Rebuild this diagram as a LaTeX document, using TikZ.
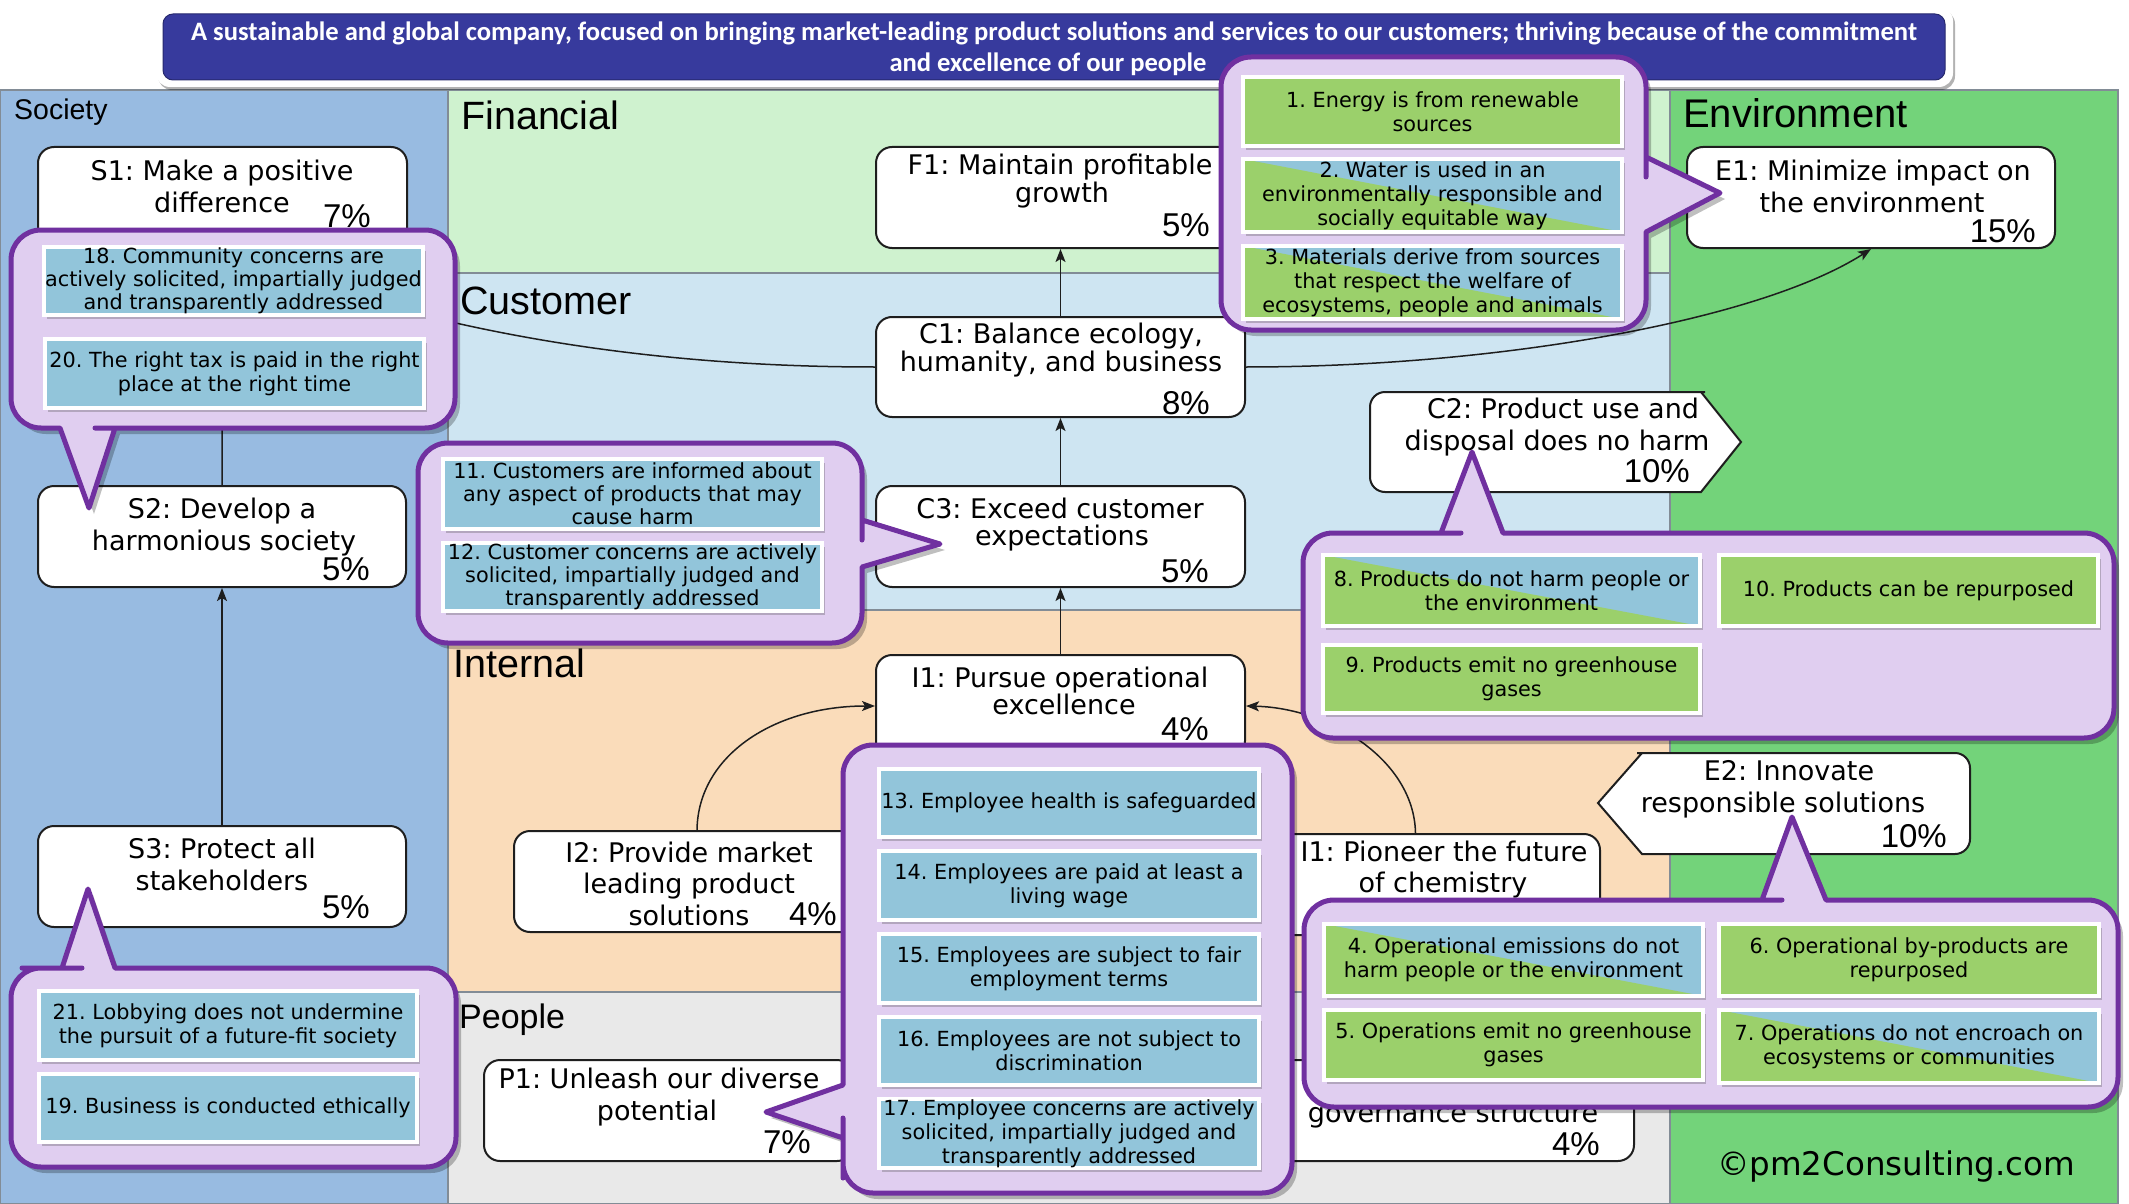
\documentclass[tikz,border=0pt]{standalone}
\usepackage{fontspec}
\setmainfont{DejaVu Sans}
\newfontfamily\vf{DejaVu Sans}
\newfontfamily\af{Liberation Sans}
\newfontfamily\cf{Carlito}
\usetikzlibrary{arrows.meta,shadows}
\definecolor{socbg}{RGB}{152,187,225}
\definecolor{finbg}{RGB}{207,242,207}
\definecolor{cusbg}{RGB}{206,229,242}
\definecolor{intbg}{RGB}{250,220,186}
\definecolor{peobg}{RGB}{233,233,233}
\definecolor{envbg}{RGB}{115,211,122}
\definecolor{panline}{RGB}{130,140,150}
\definecolor{bannerblue}{RGB}{55,58,157}
\definecolor{coFill}{RGB}{224,206,240}
\definecolor{coLine}{RGB}{112,48,160}
\definecolor{iblue}{RGB}{146,197,218}
\definecolor{igreen}{RGB}{155,208,107}
\definecolor{boxline}{RGB}{30,30,30}
\newcounter{tl}
\newcommand\btl[3]{\stepcounter{tl}\node[btxt] (t\arabic{tl}) at (#1,#2) {#3};}
\newcommand\pctl[3]{\stepcounter{tl}\node[pct] (t\arabic{tl}) at (#1,#2) {#3};}
\newcommand\itm[8]{%
 \pgfmathsetmacro\iw{#4-#2-4}\pgfmathsetmacro\ih{#5-#3-4}%
 \pgfmathsetmacro\icx{(#2+#4)/2}\pgfmathsetmacro\icy{(#3+#5)/2}%
 \node[itembox,#6,minimum width=\iw pt,minimum height=\ih pt] (#1) at (\icx,\icy) {};
 \node[itemtxt,#7] (#1t) at (#1.center) {#8};}
\begin{document}
\frenchspacing
\begin{tikzpicture}[x=1pt,y=-1pt,
 panel/.style={draw=panline,line width=1.2pt},
 mbox/.style={draw=boxline,fill=white,line width=2pt,rounded corners=16pt,inner sep=0pt},
 mpath/.style={draw=boxline,fill=white,line width=2pt},
 btxt/.style={anchor=base,inner sep=0pt,font=\vf\fontsize{27}{31}\selectfont},
 pct/.style={anchor=base east,inner sep=0pt,font=\af\fontsize{33}{36}\selectfont},
 sect/.style={anchor=base west,inner sep=0pt},
 arr/.style={-{Stealth[length=13pt,width=10pt,inset=3pt]},line width=1.5pt,draw=boxline},
 callout/.style={draw=coLine,fill=coFill,line width=5pt,line join=round,drop shadow={shadow xshift=5pt,shadow yshift=-6pt,opacity=0.25,fill=black}},
 itembox/.style={draw=white,line width=4pt,inner sep=0pt,drop shadow={shadow xshift=3pt,shadow yshift=-4pt,opacity=0.3,fill=black!70}},
 itemtxt/.style={inner sep=0pt,align=center,font=\vf\fontsize{20.8}{24}\selectfont},
 tight/.style={font=\vf\fontsize{20.8}{23}\selectfont},
 ib/.style={fill=iblue},
 ig/.style={fill=igreen},
 isplit/.style={fill=iblue,path picture={\fill[igreen] (path picture bounding box.north west) -- (path picture bounding box.south east) -- (path picture bounding box.south west) -- cycle;}},
]
\fill[white] (0,0) rectangle (2129,1204);
\path[use as bounding box] (0,0) rectangle (2129,1204);
% panels
\draw[panel,fill=socbg] (0,90) rectangle (448,1204);
\draw[panel,fill=finbg] (448,90) rectangle (1670,273);
\draw[panel,fill=cusbg] (448,273) rectangle (1670,610);
\draw[panel,fill=intbg] (448,610) rectangle (1670,992);
\draw[panel,fill=peobg] (448,992) rectangle (1670,1204);
\draw[panel,fill=envbg] (1670,90) rectangle (2118,1204);
% banner
\path[fill=white,rounded corners=14pt,drop shadow={shadow xshift=2pt,shadow yshift=-3pt,opacity=0.3,fill=black}] (156,7) rectangle (1953,87);
\path[fill=bannerblue,draw=bannerblue!70!black,line width=1pt,rounded corners=10pt] (163,14) rectangle (1945,80);
\node[anchor=base,inner sep=0pt,text=white,font=\cf\bfseries\fontsize{26.6}{31}\selectfont] (bn1) at (1054,41) {A sustainable and global company, focused on bringing market-leading product solutions and services to our customers; thriving because of the commitment};
\node[anchor=base,inner sep=0pt,text=white,font=\cf\bfseries\fontsize{26.6}{31}\selectfont] (bn2) at (1048,72) {and excellence of our people};
% section labels
\node[sect,font=\af\fontsize{28.5}{30}\selectfont] (lsoc) at (14,120) {Society};
\node[sect,font=\af\fontsize{39.5}{40}\selectfont] (lfin) at (461,130) {Financial};
\node[sect,font=\af\fontsize{39.5}{40}\selectfont] (lcus) at (460,314) {Customer};
\node[sect,font=\af\fontsize{39.5}{40}\selectfont] (lint) at (453,677) {Internal};
\node[sect,font=\af\fontsize{34}{36}\selectfont] (lpeo) at (459,1028) {People};
\node[sect,font=\af\fontsize{40}{40}\selectfont] (lenv) at (1683,128) {Environment};
% main boxes
\node[mbox,minimum width=369pt,minimum height=102pt] (S1) at (222.5,198) {};
\node[mbox,minimum width=368pt,minimum height=101pt] (S2) at (222,536.5) {};
\node[mbox,minimum width=368pt,minimum height=101pt] (S3) at (222,876.5) {};
\node[mbox,minimum width=369pt,minimum height=101pt] (F1) at (1060.5,197.5) {};
\node[mbox,minimum width=369pt,minimum height=100pt] (C1) at (1060.5,367) {};
\node[mbox,minimum width=369pt,minimum height=101pt] (C3) at (1060.5,536.5) {};
\node[mbox,minimum width=369pt,minimum height=102pt] (I1) at (1060.5,706) {};
\node[mbox,minimum width=368pt,minimum height=101pt] (E1) at (1871,197.5) {};
\node[mbox,minimum width=366pt,minimum height=101pt] (I2) at (697,881.5) {};
\node[mbox,minimum width=369pt,minimum height=101pt] (P1) at (668.5,1110.5) {};
\node[mbox,minimum width=369pt,minimum height=101pt] (I1P) at (1415.5,884.5) {};
\node[mbox,minimum width=369pt,minimum height=101pt] (P2) at (1449.5,1110.5) {};
% signal shapes
\draw[mpath] (1370,442) [rounded corners=15pt] -- (1370,392) -- (1690,392) [sharp corners] -- (1701,392) -- (1741,442) -- (1701,492) -- (1690,492) [rounded corners=15pt] -- (1370,492) -- cycle;
\draw[mpath] (1970,803) [rounded corners=15pt] -- (1970,753) -- (1652,753) [sharp corners] -- (1642,753) -- (1598,803) -- (1642,854) -- (1652,854) [rounded corners=15pt] -- (1970,854) -- cycle;
% texts in boxes
\btl{222}{180}{S1: Make a positive} \btl{222}{212}{difference} \pctl{371}{227}{7\%}
\btl{222}{518}{S2: Develop a} \btl{224}{550}{harmonious society} \pctl{370}{580}{5\%}
\btl{222}{858}{S3: Protect all} \btl{222}{890}{stakeholders} \pctl{370}{918}{5\%}
\btl{1060}{175}{F1: Maintain profitable} \btl{1062}{202}{growth} \pctl{1210}{236}{5\%}
\btl{1061}{343}{C1: Balance ecology,} \btl{1061}{371}{humanity, and business} \pctl{1210}{414}{8\%}
\btl{1060}{518}{C3: Exceed customer} \btl{1062}{545}{expectations} \pctl{1209}{582}{5\%}
\btl{1060}{687}{I1: Pursue operational} \btl{1064}{714}{excellence} \pctl{1209}{740}{4\%}
\btl{689}{862}{I2: Provide market} \btl{689}{893}{leading product} \btl{689}{925}{solutions} \pctl{837}{925}{4\%}
\btl{659}{1088}{P1: Unleash our diverse} \btl{657}{1120}{potential} \pctl{811}{1153}{7\%}
\btl{1444}{861}{I1: Pioneer the future} \btl{1443}{892}{of chemistry}
\btl{1453}{1122}{governance structure} \pctl{1600}{1155}{4\%}
\btl{1873}{180}{E1: Minimize impact on} \btl{1872}{212}{the environment} \pctl{2036}{242}{15\%}
\btl{1563}{418}{C2: Product use and} \btl{1557}{450}{disposal does no harm} \pctl{1690}{482}{10\%}
\btl{1789}{780}{E2: Innovate} \btl{1783}{812}{responsible solutions} \pctl{1947}{847}{10\%}
% connectors
\draw[arr] (C1) -- (F1);
\draw[arr] (C3) -- (C1);
\draw[arr] (I1) -- (C3);
\draw[arr] (S3) -- (S2);
\draw[arr] (S2) -- (S1);
\draw[arr] (C1.east) .. controls (1500,367) and (1760,320) .. (E1.south);
\draw[arr] (C1.west) .. controls (640,367) and (420,330) .. (S1.south);
\draw[arr] (I2.north) .. controls (698,755) and (775,706) .. (I1.west);
\draw[arr] (I1P.north) .. controls (1414,760) and (1330,708) .. (I1.east);
% callout A
\draw[callout] (1433,57) [rounded corners=30pt] -- (1646,57) -- (1646,147) [sharp corners] -- (1646,157) -- (1720,193) -- (1646,232) -- (1646,242) [rounded corners=30pt] -- (1646,330) -- (1221,330) -- (1221,57) -- cycle;
\itm{it1}{1241}{75}{1624}{148}{ig}{}{1. Energy is from renewable\\sources}
\itm{it2}{1241}{157}{1624}{234}{isplit}{}{2. Water is used in an\\environmentally responsible and\\socially equitable way}
\itm{it3}{1241}{244}{1624}{321}{isplit}{}{3. Materials derive from sources\\that respect the welfare of\\ecosystems, people and animals}
% callout B
\draw[callout] (11,330) [rounded corners=30pt] -- (11,230) -- (455,230) -- (455,428) -- (125,428) [sharp corners] -- (115,428) -- (89,508) -- (60,428) -- (50,428) [rounded corners=30pt] -- (11,428) -- cycle;
\itm{it18}{42}{245}{425}{317}{ib}{tight}{18. Community concerns are\\actively solicited, impartially judged\\and transparently addressed}
\itm{it20}{43}{337}{426}{410}{ib}{}{20. The right tax is paid in the right\\place at the right time}
% callout C
\draw[callout] (640,443) [rounded corners=30pt] -- (862,443) -- (862,510) [sharp corners] -- (862,520) -- (940,544) -- (862,567) -- (862,577) [rounded corners=30pt] -- (862,643) -- (418,643) -- (418,443) -- cycle;
\itm{it11}{441}{457}{824}{531}{ib}{tight}{11. Customers are informed about\\any aspect of products that may\\cause harm}
\itm{it12}{441}{541}{824}{613}{ib}{tight}{12. Customer concerns are actively\\solicited, impartially judged and\\transparently addressed}
% callout D
\draw[callout] (1303,635) [rounded corners=30pt] -- (1303,533) -- (1431,533) [sharp corners] -- (1441,533) -- (1472,452) -- (1503,533) -- (1513,533) [rounded corners=30pt] -- (2114,533) -- (2114,738) -- (1303,738) -- cycle;
\itm{it8}{1321}{553}{1702}{628}{isplit}{}{8. Products do not harm people or\\the environment}
\itm{it10}{1717}{553}{2100}{628}{ig}{}{10. Products can be repurposed}
\itm{it9}{1321}{643}{1702}{715}{ig}{}{9. Products emit no greenhouse\\gases}
% callout E
\draw[callout] (1067,745) [rounded corners=30pt] -- (1292,745) -- (1292,1193) -- (843,1193) -- (843,1148) [sharp corners] -- (843,1138) -- (766,1112) -- (843,1085) -- (843,1075) [rounded corners=30pt] -- (843,745) -- cycle;
\itm{it13}{877}{767}{1261}{839}{ib}{}{13. Employee health is safeguarded}
\itm{it14}{877}{849}{1261}{922}{ib}{}{14. Employees are paid at least a\\living wage}
\itm{it15}{877}{932}{1261}{1005}{ib}{}{15. Employees are subject to fair\\employment terms}
\itm{it16}{877}{1015}{1261}{1087}{ib}{}{16. Employees are not subject to\\discrimination}
\itm{it17}{877}{1097}{1261}{1170}{ib}{}{17. Employee concerns are actively\\solicited, impartially judged and\\transparently addressed}
% callout F
\draw[callout] (1304,1000) [rounded corners=30pt] -- (1304,900) -- (1752,900) [sharp corners] -- (1762,900) -- (1792,817) -- (1826,900) -- (1836,900) [rounded corners=30pt] -- (2118,900) -- (2118,1107) -- (1304,1107) -- cycle;
\itm{it4}{1322}{922}{1705}{998}{isplit}{}{4. Operational emissions do not\\harm people or the environment}
\itm{it6}{1717}{922}{2101}{998}{ig}{}{6. Operational by-products are\\repurposed}
\itm{it5}{1322}{1008}{1705}{1082}{ig}{}{5. Operations emit no greenhouse\\gases}
\itm{it7}{1717}{1008}{2101}{1085}{isplit}{}{7. Operations do not encroach on\\ecosystems or communities}
% callout G
\draw[callout] (11,1070) [rounded corners=30pt] -- (11,968) -- (52,968) [sharp corners] -- (62,968) -- (88,889) -- (115,968) -- (125,968) [rounded corners=30pt] -- (456,968) -- (456,1167) -- (11,1167) -- cycle;
\itm{it21}{37}{989}{419}{1062}{ib}{}{21. Lobbying does not undermine\\the pursuit of a future-fit society}
\itm{it19}{37}{1072}{419}{1144}{ib}{}{19. Business is conducted ethically}
% copyright
\node[anchor=base,inner sep=0pt,font=\vf\fontsize{32.5}{34}\selectfont] (copy) at (1896,1175) {©pm2Consulting.com};
\end{tikzpicture}
\end{document}
